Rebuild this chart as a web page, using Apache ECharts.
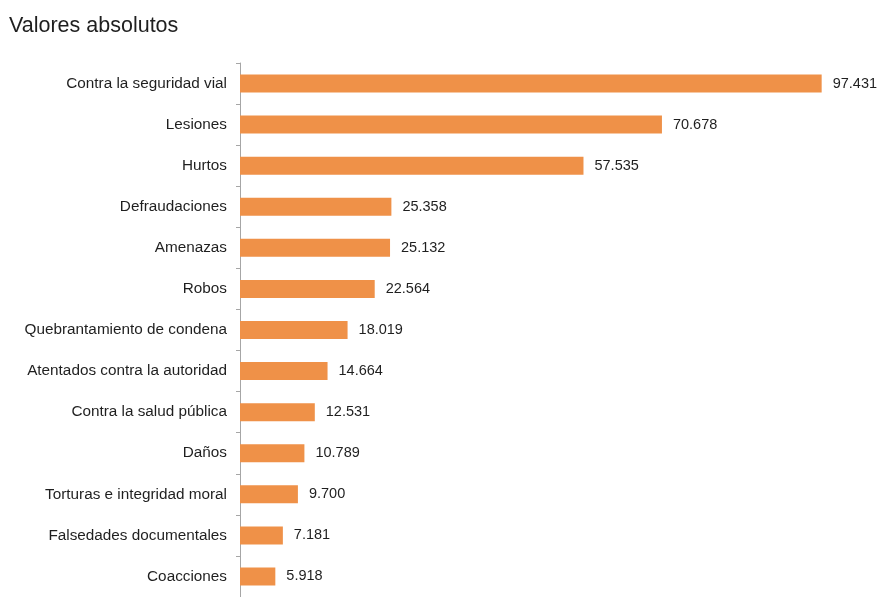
<!DOCTYPE html>
<html>
<head>
<meta charset="utf-8">
<script src="https://cdn.jsdelivr.net/npm/echarts@6/dist/echarts.min.js"></script>
<style>
  html, body { margin: 0; padding: 0; background: #fff; }
  #chart { width: 880px; height: 597px; }
</style>
</head>
<body>
<div id="chart"></div>
<script>
// Delitos: valores absolutos por tipo
const categories = [
  'Contra la seguridad vial',
  'Lesiones',
  'Hurtos',
  'Defraudaciones',
  'Amenazas',
  'Robos',
  'Quebrantamiento de condena',
  'Atentados contra la autoridad',
  'Contra la salud pública',
  'Daños',
  'Torturas e integridad moral',
  'Falsedades documentales',
  'Coacciones'
];
const values = [97431, 70678, 57535, 25358, 25132, 22564, 18019, 14664, 12531, 10789, 9700, 7181, 5918];

// Spanish thousands separator
function fmt(v) {
  return String(v).replace(/\B(?=(\d{3})+(?!\d))/g, '.');
}

const FONT = '"Liberation Sans", Arial, sans-serif';
const chart = echarts.init(document.getElementById('chart'));
chart.setOption({
  backgroundColor: '#ffffff',
  animation: false,
  title: {
    text: 'Valores absolutos',
    left: 4,
    top: 10,
    textStyle: { fontFamily: FONT, fontSize: 21.5, fontWeight: 'normal', color: '#1f1f1f' }
  },
  grid: { left: 240, top: 63, width: 597, height: 537 },
  xAxis: {
    type: 'value',
    min: 0,
    max: 100000,
    show: false
  },
  yAxis: {
    type: 'category',
    data: categories,
    inverse: true,
    axisLine: { show: true, lineStyle: { color: '#a6a6a6', width: 1 } },
    axisTick: { show: true, length: 4, lineStyle: { color: '#a6a6a6' } },
    axisLabel: {
      margin: 13,
      fontFamily: FONT,
      fontSize: 15.3,
      color: '#1f1f1f'
    },
    splitLine: { show: false }
  },
  series: [{
    type: 'bar',
    data: values,
    barWidth: 18,
    itemStyle: { color: '#EF9148' },
    label: {
      show: true,
      position: 'right',
      distance: 11,
      formatter: p => fmt(p.value),
      fontFamily: FONT,
      fontSize: 14.5,
      color: '#1f1f1f'
    }
  }]
});
</script>
</body>
</html>
